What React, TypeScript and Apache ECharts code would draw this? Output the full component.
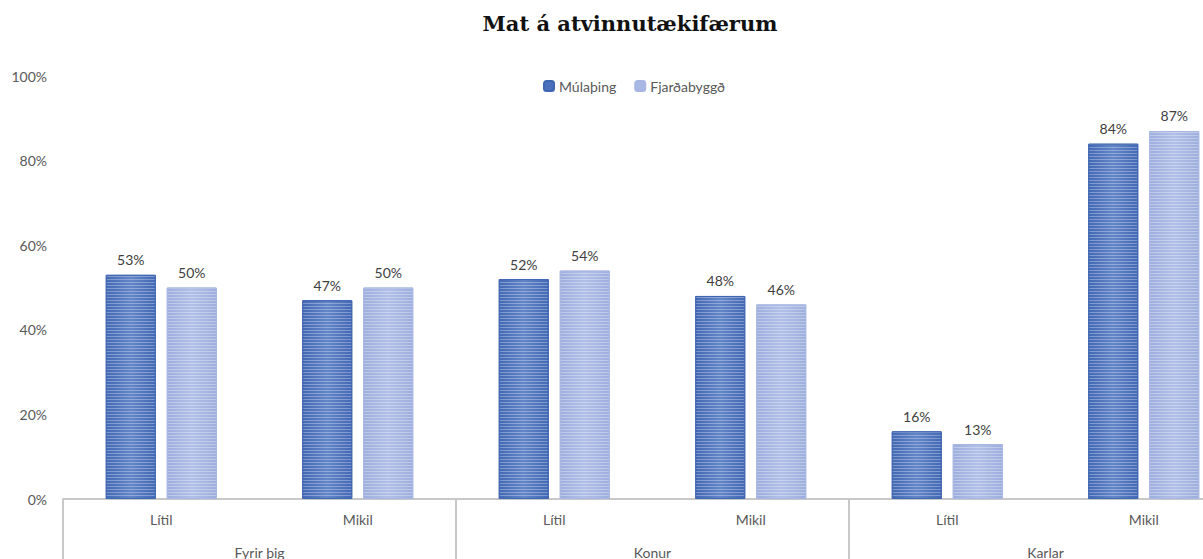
import React, { useEffect, useRef } from "react";
import * as echarts from "echarts";

const subCategories = ["Lítil", "Mikil", "Lítil", "Mikil", "Lítil", "Mikil"];
const groupCategories = ["Fyrir þig", "Konur", "Karlar"];
const mulathing = [53, 47, 52, 48, 16, 84];
const fjardabyggd = [50, 50, 54, 46, 13, 87];
const yTicks = [0, 20, 40, 60, 80, 100];

const FONT = "Lato, 'Open Sans', sans-serif";

function barGradient(edge: string, mid: string) {
  return new echarts.graphic.LinearGradient(0, 0, 1, 0, [
    { offset: 0, color: edge },
    { offset: 0.5, color: mid },
    { offset: 1, color: edge },
  ]);
}

const stripeDecal = {
  symbol: "rect",
  symbolSize: 1,
  dashArrayX: [1, 0],
  dashArrayY: [1, 2],
  rotation: 0,
  color: "rgba(255,255,255,0.3)",
};

export default function App() {
  const ref = useRef<HTMLDivElement>(null);
  useEffect(() => {
    document.body.style.margin = "0";
    document.body.style.overflow = "hidden";
    if (!ref.current) return;
    const chart = echarts.init(ref.current, undefined, { renderer: "svg" });
    chart.setOption({
      animation: false,
      backgroundColor: "#ffffff",
      title: {
        text: "Mat á atvinnutækifærum",
        left: 625,
        top: 8,
        textAlign: "center",
        textStyle: {
          fontFamily: "'DejaVu Serif', serif",
          fontWeight: "bold",
          fontSize: 21,
          color: "#111111",
        },
      },
      legend: {
        left: 538,
        top: 74,
        itemWidth: 10,
        itemHeight: 10,
        itemGap: 18,
        textStyle: { fontFamily: FONT, fontSize: 14, color: "#595959" },
        data: [
          { name: "Múlaþing", itemStyle: { color: "#4a70bb", decal: "none" } },
          { name: "Fjarðabyggð", itemStyle: { color: "#a8b7e3", decal: "none" } },
        ],
      },
      grid: { left: 63, top: 76, height: 424, width: 1179, containLabel: false },
      xAxis: [
        {
          type: "category",
          data: subCategories,
          position: "bottom",
          axisLine: { show: true, lineStyle: { color: "#c8c8c8", width: 2 } },
          axisTick: { show: false },
          axisLabel: {
            margin: 13,
            fontFamily: FONT,
            fontSize: 14,
            color: "#595959",
          },
        },
        {
          type: "category",
          data: groupCategories,
          position: "bottom",
          axisLine: { show: false },
          axisTick: {
            show: true,
            length: 60,
            lineStyle: { color: "#c8c8c8", width: 2 },
          },
          axisLabel: {
            margin: 46,
            fontFamily: FONT,
            fontSize: 14,
            color: "#595959",
          },
        },
      ],
      yAxis: {
        type: "value",
        min: yTicks[0],
        max: yTicks[yTicks.length - 1],
        interval: 20,
        axisLine: { show: false },
        axisTick: { show: false },
        splitLine: { show: false },
        axisLabel: {
          margin: 16,
          formatter: "{value}%",
          fontFamily: FONT,
          fontSize: 14,
          color: "#595959",
        },
      },
      series: [
        {
          name: "Múlaþing",
          type: "bar",
          xAxisIndex: 0,
          data: mulathing,
          barWidth: 50,
          barGap: "22%",
          itemStyle: {
            color: barGradient("#4369b5", "#6386c8"),
            borderColor: "#3f66b0",
            borderWidth: 1,
            decal: stripeDecal,
          },
          label: {
            show: true,
            position: "top",
            distance: 8,
            formatter: "{c}%",
            fontFamily: FONT,
            fontSize: 14,
            color: "#404040",
          },
        },
        {
          name: "Fjarðabyggð",
          type: "bar",
          xAxisIndex: 0,
          data: fjardabyggd,
          barWidth: 50,
          barGap: "22%",
          itemStyle: {
            color: barGradient("#9eaedd", "#b2c0e8"),
            borderColor: "#a7b6e2",
            borderWidth: 1,
            decal: stripeDecal,
          },
          label: {
            show: true,
            position: "top",
            distance: 8,
            formatter: "{c}%",
            fontFamily: FONT,
            fontSize: 14,
            color: "#404040",
          },
        },
      ],
    });
    return () => chart.dispose();
  }, []);
  return (
    <div style={{ width: 1203, height: 559, overflow: "hidden" }}>
      <div ref={ref} style={{ width: 1260, height: 559 }} />
    </div>
  );
}
